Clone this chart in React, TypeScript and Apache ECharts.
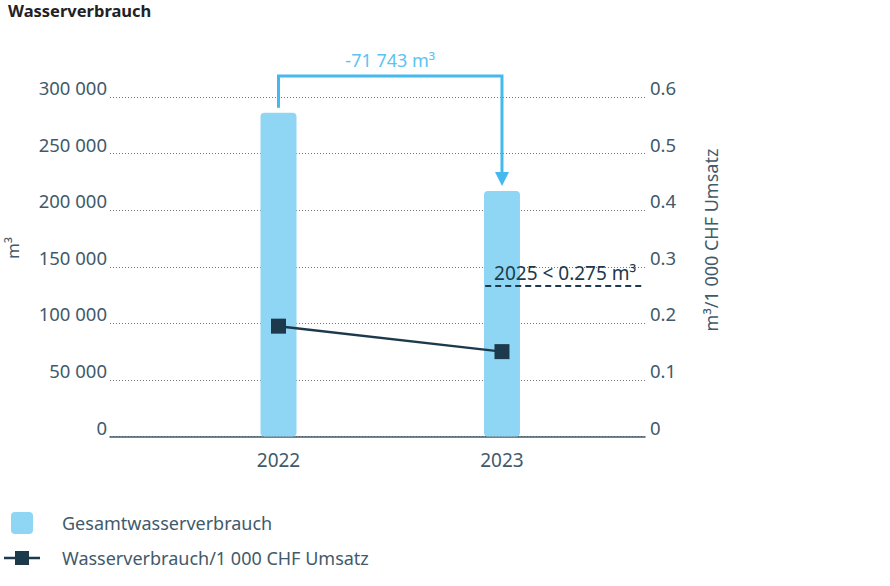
import React, { useEffect, useRef } from "react";
import * as echarts from "echarts";

const years = [2022, 2023];
const totalWater = [286000, 217000];
const waterPerRevenue = [0.195, 0.15];
const leftTicks = { min: 0, max: 300000, interval: 50000 };
const rightTicks = { min: 0, max: 0.6, interval: 0.1 };
const targetValue = 0.267;
const targetLabel = "2025 < 0.275 m³";
const diffLabel = "-71 743 m³";
const title = "Wasserverbrauch";
const leftAxisName = "m³";
const rightAxisName = "m³/1 000 CHF Umsatz";
const seriesNames = ["Gesamtwasserverbrauch", "Wasserverbrauch/1 000 CHF Umsatz"];

const FONT = "'Noto Sans', sans-serif";
const TEXT = "#415a6b";
const BAR = "#8fd6f5";
const DARK = "#1c3a4c";
const ARROW = "#45b9ee";
const X_MIN = 2021.246;
const X_MAX = 2023.64;

const fmtThousands = (v: number) =>
  String(Math.round(v)).replace(/\B(?=(\d{3})+(?!\d))/g, " ");

export default function App() {
  const ref = useRef<HTMLDivElement>(null);
  useEffect(() => {
    if (!ref.current) return;
    const chart = echarts.init(ref.current, undefined, { renderer: "svg" });
    const option: any = {
      animation: false,
      textStyle: { fontFamily: FONT },
      grid: { left: 110, right: 245, top: 97, bottom: 149.5, containLabel: false },
      xAxis: {
        type: "value",
        min: X_MIN,
        max: X_MAX,
        axisLine: { show: true, onZero: false, lineStyle: { color: TEXT, width: 1.5 } },
        axisTick: { show: false },
        splitLine: { show: false },
        axisLabel: {
          customValues: years,
          formatter: (v: number) => String(Math.round(v)),
          color: TEXT,
          fontSize: 19,
          fontFamily: FONT,
          margin: 14,
        },
      },
      yAxis: [
        {
          type: "value",
          ...leftTicks,
          axisLine: { show: false },
          axisTick: { show: false },
          splitLine: { show: true, lineStyle: { type: [1, 2], color: "#777", width: 1 } },
          axisLabel: {
            color: TEXT,
            fontSize: 18.5,
            fontFamily: FONT,
            margin: 3,
            verticalAlign: "bottom",
            formatter: (v: number) => fmtThousands(v),
          },
        },
        {
          type: "value",
          ...rightTicks,
          position: "right",
          axisLine: { show: false },
          axisTick: { show: false },
          splitLine: { show: false },
          axisLabel: {
            color: TEXT,
            fontSize: 18.5,
            fontFamily: FONT,
            margin: 5,
            verticalAlign: "bottom",
            formatter: (v: number) => (v === 0 ? "0" : v.toFixed(1)),
          },
        },
      ],
      series: [
        {
          name: seriesNames[0],
          type: "bar",
          xAxisIndex: 0,
          yAxisIndex: 0,
          barWidth: 36,
          itemStyle: { color: BAR, borderRadius: 4 },
          data: years.map((y, i) => [y, totalWater[i]]),
          z: 2,
        },
        {
          name: seriesNames[1],
          type: "line",
          xAxisIndex: 0,
          yAxisIndex: 1,
          symbol: "rect",
          symbolSize: 15,
          clip: false,
          lineStyle: { color: DARK, width: 2.5 },
          itemStyle: { color: DARK },
          data: years.map((y, i) => [y, waterPerRevenue[i]]),
          z: 5,
          markLine: {
            silent: true,
            symbol: ["none", "none"],
            lineStyle: { color: DARK, type: [6, 4], width: 2 },
            label: {
              show: true,
              position: "insideMiddleTop",
              formatter: targetLabel,
              color: DARK,
              fontSize: 19,
              fontFamily: FONT,
              distance: 3,
            },
            data: [
              [
                { coord: [2022.925, targetValue] },
                { coord: [X_MAX, targetValue] },
              ],
            ],
          },
        },
      ],
    };
    chart.setOption(option);

    const p1 = chart.convertToPixel({ xAxisIndex: 0, yAxisIndex: 0 }, [years[0], totalWater[0]]) as number[];
    const p2 = chart.convertToPixel({ xAxisIndex: 0, yAxisIndex: 0 }, [years[1], totalWater[1]]) as number[];
    const topY = 76;
    const x1 = p1[0], x2 = p2[0];
    chart.setOption({
      graphic: [
        {
          type: "text",
          left: 8,
          top: 2,
          style: { text: title, font: `bold 16.5px ${FONT}`, fill: "#222" },
        },
        {
          type: "polyline",
          shape: { points: [[x1, p1[1] - 5], [x1, topY], [x2, topY], [x2, p2[1] - 16]] },
          style: { stroke: ARROW, lineWidth: 3, fill: "none" },
        },
        {
          type: "polygon",
          shape: { points: [[x2 - 7, p2[1] - 19], [x2 + 7, p2[1] - 19], [x2, p2[1] - 5]] },
          style: { fill: ARROW },
        },
        {
          type: "text",
          x: (x1 + x2) / 2,
          y: 60,
          style: {
            text: diffLabel,
            font: `18px ${FONT}`,
            fill: "#5cc3ef",
            align: "center",
            verticalAlign: "middle",
          },
        },
        {
          type: "text",
          x: 12,
          y: 248,
          rotation: Math.PI / 2,
          style: { text: leftAxisName, font: `17px ${FONT}`, fill: TEXT, align: "center", verticalAlign: "middle" },
        },
        {
          type: "text",
          x: 711,
          y: 240,
          rotation: Math.PI / 2,
          style: { text: rightAxisName, font: `18px ${FONT}`, fill: TEXT, align: "center", verticalAlign: "middle" },
        },
        {
          type: "rect",
          shape: { x: 11, y: 512, width: 22, height: 22, r: 4 },
          style: { fill: BAR },
        },
        {
          type: "text",
          x: 62,
          y: 523,
          style: { text: seriesNames[0], font: `18px ${FONT}`, fill: TEXT, verticalAlign: "middle" },
        },
        {
          type: "line",
          shape: { x1: 4, y1: 558, x2: 40, y2: 558 },
          style: { stroke: DARK, lineWidth: 2.5 },
        },
        {
          type: "rect",
          shape: { x: 15, y: 551, width: 14, height: 14 },
          style: { fill: DARK },
        },
        {
          type: "text",
          x: 62,
          y: 558,
          style: { text: seriesNames[1], font: `18px ${FONT}`, fill: TEXT, verticalAlign: "middle" },
        },
      ],
    });
    return () => chart.dispose();
  }, []);
  return <div ref={ref} style={{ width: 890, height: 586, position: "absolute", left: 0, top: 0 }} />;
}
